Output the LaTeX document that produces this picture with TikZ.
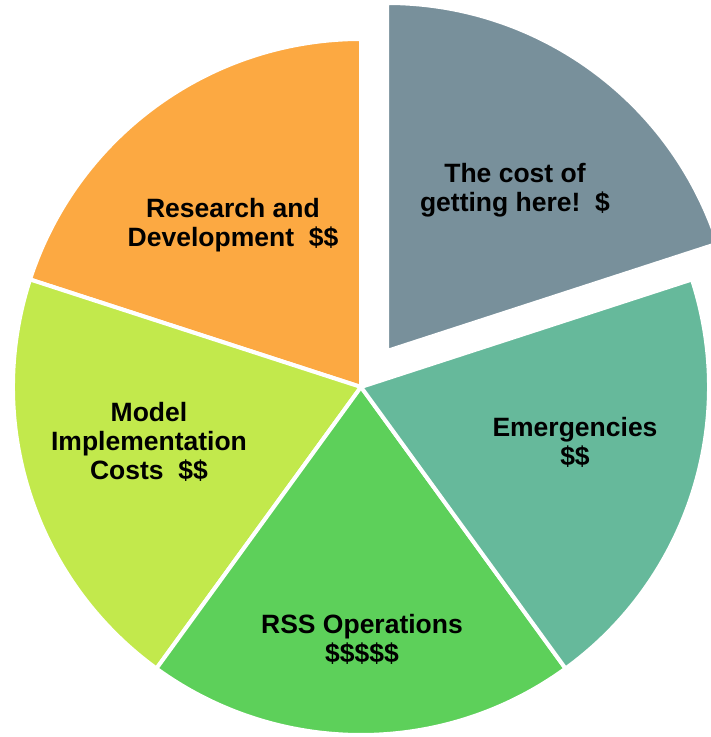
\documentclass[tikz,border=0pt]{standalone}
\usepackage{fontspec}
\setmainfont{Liberation Sans}
\definecolor{cgrey}{RGB}{120,144,155}
\definecolor{cteal}{RGB}{102,185,155}
\definecolor{cgreen}{RGB}{93,208,90}
\definecolor{cyell}{RGB}{194,233,76}
\definecolor{corange}{RGB}{252,169,66}
\tikzset{
  slice/.style={draw=white,line width=4pt,line join=miter},
  lbl/.style={align=center,font=\fontsize{26.5}{29}\selectfont\bfseries,text=black,inner sep=0pt}
}
\begin{document}
\begin{tikzpicture}[x=1pt,y=1pt]
\clip (0,0) rectangle (711,737);
\fill[white] (0,0) rectangle (711,737);
\coordinate (c) at (361,350);
\coordinate (cg) at (387,386);
\def\R{348}
% slices
\fill[corange,slice] (c) -- ++(90:\R) arc[start angle=90,end angle=162,radius=\R] -- cycle;
\fill[cyell,slice] (c) -- ++(162:\R) arc[start angle=162,end angle=234,radius=\R] -- cycle;
\fill[cgreen,slice] (c) -- ++(234:\R) arc[start angle=234,end angle=306,radius=\R] -- cycle;
\fill[cteal,slice] (c) -- ++(306:\R) arc[start angle=306,end angle=378,radius=\R] -- cycle;
\fill[cgrey,slice] (cg) -- ++(18:\R) arc[start angle=18,end angle=90,radius=\R] -- cycle;
% labels
\node[lbl] (tcost) at (515,547) {The cost of\\getting here!\ \ \$};
\node[lbl] (trd) at (233,512) {Research and\\Development\ \ \$\$};
\node[lbl] (tmic) at (149,295) {Model\\Implementation\\Costs\ \ \$\$};
\node[lbl] (temg) at (575,295) {Emergencies\\\$\$};
\node[lbl] (trss) at (362,98) {RSS Operations\\\$\$\$\$\$};
\end{tikzpicture}
\end{document}
